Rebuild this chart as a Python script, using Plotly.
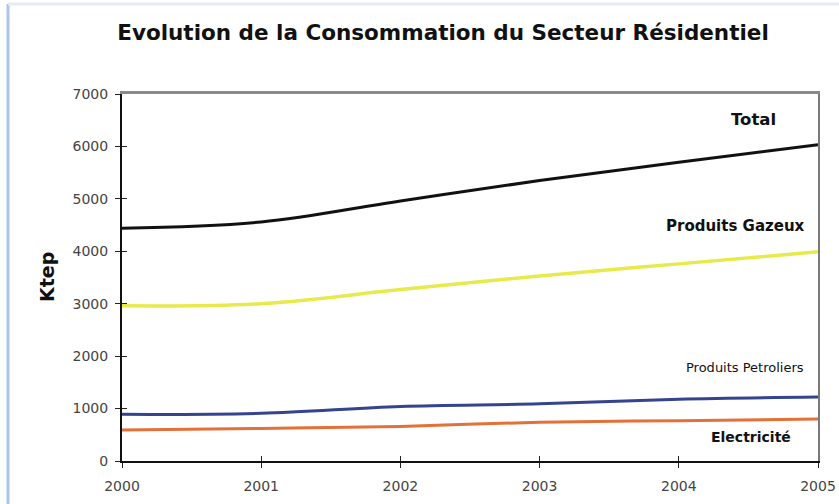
import plotly.graph_objects as go

# Residential sector consumption (ktep), 2000-2005
years = [2000, 2001, 2002, 2003, 2004, 2005]
total = [4440, 4560, 4960, 5350, 5700, 6030]
produits_gazeux = [2960, 3000, 3270, 3530, 3760, 3990]
produits_petroliers = [890, 910, 1040, 1090, 1180, 1220]
electricite = [590, 620, 660, 740, 770, 800]

series_names = ["Total", "Produits Gazeux", "Produits Petroliers", "Electricité"]
series_values = [total, produits_gazeux, produits_petroliers, electricite]
series_colors = ["#111111", "#e8ea4c", "#34448f", "#e27038"]
series_widths = [3, 3.5, 3, 3]

y_ticks = [0, 1000, 2000, 3000, 4000, 5000, 6000, 7000]
x_ticks = years

W, H = 839, 504
L, R, T, B = 122, 21, 94, 43
PW, PH = W - L - R, H - T - B

def px_x(px):
    return (px - L) / PW

def px_y(py):
    return (H - B - py) / PH

FONT = "DejaVu Sans, Verdana, sans-serif"

fig = go.Figure()
for name, vals, col, w in zip(series_names, series_values, series_colors, series_widths):
    fig.add_trace(go.Scatter(
        x=years, y=vals, name=name, mode="lines",
        line=dict(color=col, width=w, shape="spline", smoothing=1.0),
        showlegend=False, hoverinfo="x+y+name",
    ))

axis_font = dict(family=FONT, size=14, color="#444444")

fig.update_layout(
    width=W, height=H,
    margin=dict(l=L, r=R, t=T, b=B, autoexpand=False),
    paper_bgcolor="white", plot_bgcolor="white",
    title=dict(text="<b>Evolution de la Consommation du Secteur Résidentiel</b>",
               x=443 / W, xanchor="center", y=1 - 32 / H, yanchor="middle",
               font=dict(family=FONT, size=21.5, color="#111111")),
    xaxis=dict(range=[years[0], years[-1]], tickvals=x_ticks, ticktext=[str(v) for v in x_ticks],
               showgrid=False, zeroline=False, showline=True, linecolor="#111111", linewidth=2,
               ticks="outside", ticklen=5, tickwidth=1, tickcolor="#222222",
               ticklabelstandoff=6,
               tickfont=axis_font, fixedrange=True, automargin=False),
    yaxis=dict(range=[0, 7000], tickvals=y_ticks, showgrid=False, zeroline=False,
               showline=True, linecolor="#111111", linewidth=2,
               ticks="outside", ticklen=5, tickwidth=1, tickcolor="#222222",
               ticklabelstandoff=4,
               tickfont=axis_font, fixedrange=True, automargin=False),
    # top and right frame of the plot area
    xaxis2=dict(overlaying="x", side="top", range=[years[0], years[-1]], showline=True,
                linecolor="#8a8a8a", linewidth=3, showticklabels=False, ticks="",
                showgrid=False, zeroline=False, automargin=False),
    yaxis2=dict(overlaying="y", side="right", range=[0, 7000], showline=True,
                linecolor="#7a7a7a", linewidth=2, showticklabels=False, ticks="",
                showgrid=False, zeroline=False, automargin=False),
    # inner half of the crossing tick marks
    xaxis3=dict(overlaying="x", side="bottom", range=[years[0], years[-1]], tickvals=x_ticks,
                ticks="inside", ticklen=5, tickwidth=1, tickcolor="#222222",
                showticklabels=False, showline=False, showgrid=False, zeroline=False,
                automargin=False),
    yaxis3=dict(overlaying="y", side="left", range=[0, 7000], tickvals=y_ticks,
                ticks="inside", ticklen=5, tickwidth=1, tickcolor="#222222",
                showticklabels=False, showline=False, showgrid=False, zeroline=False,
                automargin=False),
)

# invisible traces so the overlay axes are drawn
fig.add_trace(go.Scatter(x=[years[0]], y=[0], xaxis="x2", yaxis="y2", mode="markers",
                         marker=dict(opacity=0), showlegend=False, hoverinfo="skip"))
fig.add_trace(go.Scatter(x=[years[0]], y=[0], xaxis="x3", yaxis="y3", mode="markers",
                         marker=dict(opacity=0), showlegend=False, hoverinfo="skip"))

# series labels
labels = [
    ("<b>Total</b>", 778, 119, 16.5),
    ("<b>Produits Gazeux</b>", 807, 226, 15),
    ("Produits Petroliers", 806, 368, 13),
    ("<b>Electricité</b>", 793, 437, 14),
]
for txt, rx, cy, fs in labels:
    fig.add_annotation(text=txt, xref="paper", yref="paper", x=px_x(rx), y=px_y(cy),
                       xanchor="right", yanchor="middle", showarrow=False,
                       font=dict(family=FONT, size=fs, color="#111111"))

# y axis title
fig.add_annotation(text="<b>Ktep</b>", xref="paper", yref="paper", x=px_x(47), y=px_y(277),
                   xanchor="center", yanchor="middle", textangle=-90, showarrow=False,
                   font=dict(family=FONT, size=19, color="#111111"))

# light page border on the left and top
fig.add_shape(type="line", xref="paper", yref="paper", x0=px_x(8), x1=px_x(8),
              y0=px_y(4), y1=px_y(H), line=dict(color="#a9c6e6", width=3))
fig.add_shape(type="line", xref="paper", yref="paper", x0=px_x(8), x1=px_x(W),
              y0=px_y(4), y1=px_y(4), line=dict(color="#e3ecf5", width=3))

fig.write_html("out.html")
